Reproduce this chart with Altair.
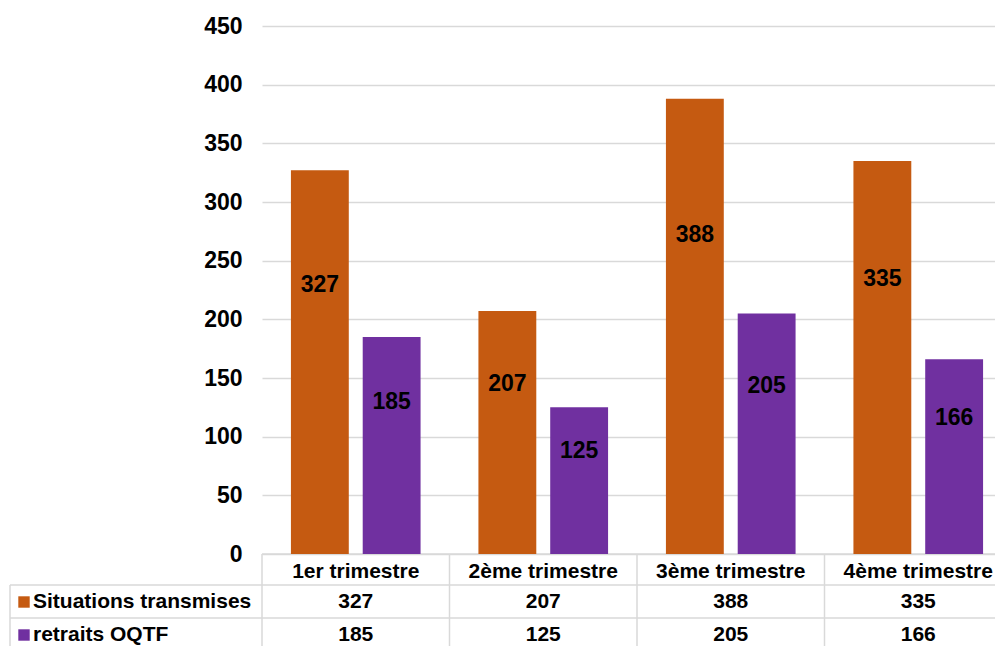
import altair as alt
import pandas as pd

categories = ["1er trimestre", "2ème trimestre", "3ème trimestre", "4ème trimestre"]
series = ["Situations transmises", "retraits OQTF"]
situations = [327, 207, 388, 335]
retraits = [185, 125, 205, 166]
colors = ["#C55A11", "#7030A0"]
y_ticks = [0, 50, 100, 150, 200, 250, 300, 350, 400, 450]

rows = []
for c, a, b in zip(categories, situations, retraits):
    rows.append({"cat": c, "series": series[0], "value": a})
    rows.append({"cat": c, "series": series[1], "value": b})
df = pd.DataFrame(rows)
cat_df = pd.DataFrame({"cat": categories})
ser_df = pd.DataFrame({"series": series})

FONT = "Liberation Sans"
XR = 750      # full extent of the category scale (partly cropped at right)
W = 733       # visible view width
H = 528

x_enc = alt.X("cat:N", sort=categories, axis=None,
              scale=alt.Scale(paddingInner=0, paddingOuter=0, range=[0, XR]))
xo_enc = alt.XOffset("series:N", sort=series,
                     scale=alt.Scale(paddingInner=0.194, paddingOuter=0.403))
color_enc = alt.Color("series:N", scale=alt.Scale(domain=series, range=colors), legend=None)

base = alt.Chart(df)

bars = base.mark_bar().encode(
    x=x_enc,
    xOffset=xo_enc,
    y=alt.Y("value:Q", title=None,
            scale=alt.Scale(domain=[0, 450], nice=False),
            axis=alt.Axis(values=y_ticks, grid=True, ticks=False, domain=False,
                          labelPadding=20, labelFontSize=23, labelFont=FONT,
                          labelFontWeight="bold", labelColor="#000000",
                          gridColor="#D9D9D9", gridWidth=1.5)),
    color=color_enc,
)

bar_labels = base.transform_calculate(ly="datum.value * 0.7").mark_text(
    font=FONT, fontSize=23, fontWeight="bold", color="#000000", baseline="middle"
).encode(
    x=x_enc,
    xOffset=xo_enc,
    y=alt.Y("ly:Q"),
    text=alt.Text("value:Q"),
)

header = alt.Chart(cat_df).mark_text(
    font=FONT, fontSize=21, fontWeight="bold", color="#000000", baseline="middle"
).encode(x=x_enc, y=alt.value(546), text="cat:N")

row_y = [576, 609]
table_vals = []
legend_layers = []
for i, s in enumerate(series):
    table_vals.append(
        base.transform_filter(alt.datum.series == s).mark_text(
            font=FONT, fontSize=21, fontWeight="bold", color="#000000", baseline="middle"
        ).encode(x=x_enc, y=alt.value(row_y[i]), text="value:Q")
    )
    sd = ser_df[ser_df.series == s]
    legend_layers.append(
        alt.Chart(sd).mark_square(size=130, opacity=1).encode(
            x=alt.value(-238), y=alt.value(row_y[i]), color=color_enc)
    )
    legend_layers.append(
        alt.Chart(sd).mark_text(
            font=FONT, fontSize=21, fontWeight="bold", color="#000000",
            align="left", baseline="middle"
        ).encode(x=alt.value(-229), y=alt.value(row_y[i]), text="series:N")
    )

one = pd.DataFrame({"k": [0]})


def hline(x1, x2, y):
    return alt.Chart(one).mark_rule(color="#D9D9D9", strokeWidth=1.5).encode(
        x=alt.value(x1), x2=alt.value(x2), y=alt.value(y))


def vline(x, y1, y2):
    return alt.Chart(one).mark_rule(color="#D9D9D9", strokeWidth=1.5).encode(
        x=alt.value(x), y=alt.value(y1), y2=alt.value(y2))


lines = [
    hline(0, XR, 528),
    hline(-252, XR, 559),
    hline(-252, XR, 592),
    hline(-252, XR, 625),
    vline(-252, 559, 625),
]
for k in range(5):
    lines.append(vline(k * XR / 4, 528, 625))

chart = alt.layer(
    *lines, bars, bar_labels, header, *table_vals, *legend_layers
).properties(
    width=W, height=H,
    background="white",
    autosize=alt.AutoSizeParams(type="none"),
    padding={"left": 254, "top": 18, "right": 0, "bottom": 92},
).configure_view(stroke=None)

chart.save("out.html", embed_options={"renderer": "svg", "actions": False})
